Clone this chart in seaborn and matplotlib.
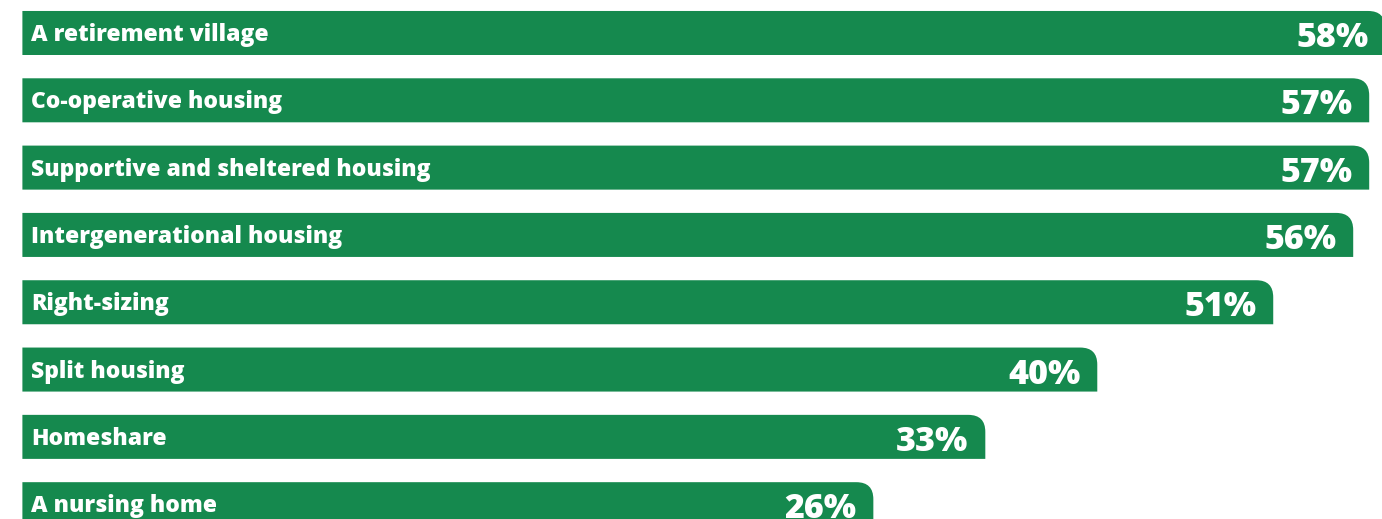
import numpy as np
import pandas as pd
import matplotlib
matplotlib.use("Agg")
import matplotlib.pyplot as plt
from matplotlib.path import Path
from matplotlib.patches import PathPatch
from matplotlib.transforms import IdentityTransform
import seaborn as sns

# Data
options = [
    "A retirement village",
    "Co-operative housing",
    "Supportive and sheltered housing",
    "Intergenerational housing",
    "Right-sizing",
    "Split housing",
    "Homeshare",
    "A nursing home",
]
shares = [58, 57, 57, 56, 51, 40, 33, 26]
value_labels = ["58%", "57%", "57%", "56%", "51%", "40%", "33%", "26%"]

GREEN = "#15894E"
BAR_START = -27.2   # bars start left of zero in the original layout
CORNER = 17         # px radius of the rounded top-right corner

df = pd.DataFrame({"option": options, "share": shares})

sns.set_theme(style="white")
plt.rcParams["font.family"] = ["Open Sans", "DejaVu Sans"]

fig = plt.figure(figsize=(13.82, 5.19), dpi=100)
ax = fig.add_axes([0, 0, 1, 1])

sns.barplot(data=df, x="share", y="option", color=GREEN, saturation=1,
            width=0.654, orient="h", ax=ax)

ax.set_xlim(-28.6, 57.8)
ax.set_ylim(7.22, -0.49)
ax.axis("off")

fig.canvas.draw()


def rounded_bar(x0, y0, x1, y1, r):
    # display coords: y1 is the top edge
    verts = [(x0, y0), (x1, y0), (x1, y1 - r), (x1, y1), (x1 - r, y1),
             (x0, y1), (x0, y0)]
    codes = [Path.MOVETO, Path.LINETO, Path.LINETO, Path.CURVE3, Path.CURVE3,
             Path.LINETO, Path.CLOSEPOLY]
    return Path(verts, codes)


bars = list(ax.patches)
for bar, name, lab in zip(bars, options, value_labels):
    y = bar.get_y()
    h = bar.get_height()
    right = bar.get_x() + bar.get_width()
    (px0, py_a), (px1, py_b) = ax.transData.transform([(BAR_START, y), (right, y + h)])
    top, bottom = max(py_a, py_b), min(py_a, py_b)
    patch = PathPatch(rounded_bar(px0, bottom, px1, top, CORNER),
                      facecolor=GREEN, edgecolor="none",
                      transform=IdentityTransform(), zorder=1)
    ax.add_patch(patch)
    bar.set_visible(False)

    yc = y + h / 2
    ax.annotate(name, (BAR_START, yc), xytext=(9, -2), textcoords="offset pixels",
                ha="left", va="center", color="white", fontsize=16.5,
                fontweight=800, family=["Open Sans", "DejaVu Sans"], zorder=5,
                annotation_clip=False)
    ax.annotate(lab, (right, yc), xytext=(-17, -5), textcoords="offset pixels",
                ha="right", va="center", color="white", fontsize=24.5,
                fontweight=800, family=["Open Sans", "DejaVu Sans"], zorder=5,
                annotation_clip=False)

fig.savefig("out.png", dpi=100, facecolor="white")
